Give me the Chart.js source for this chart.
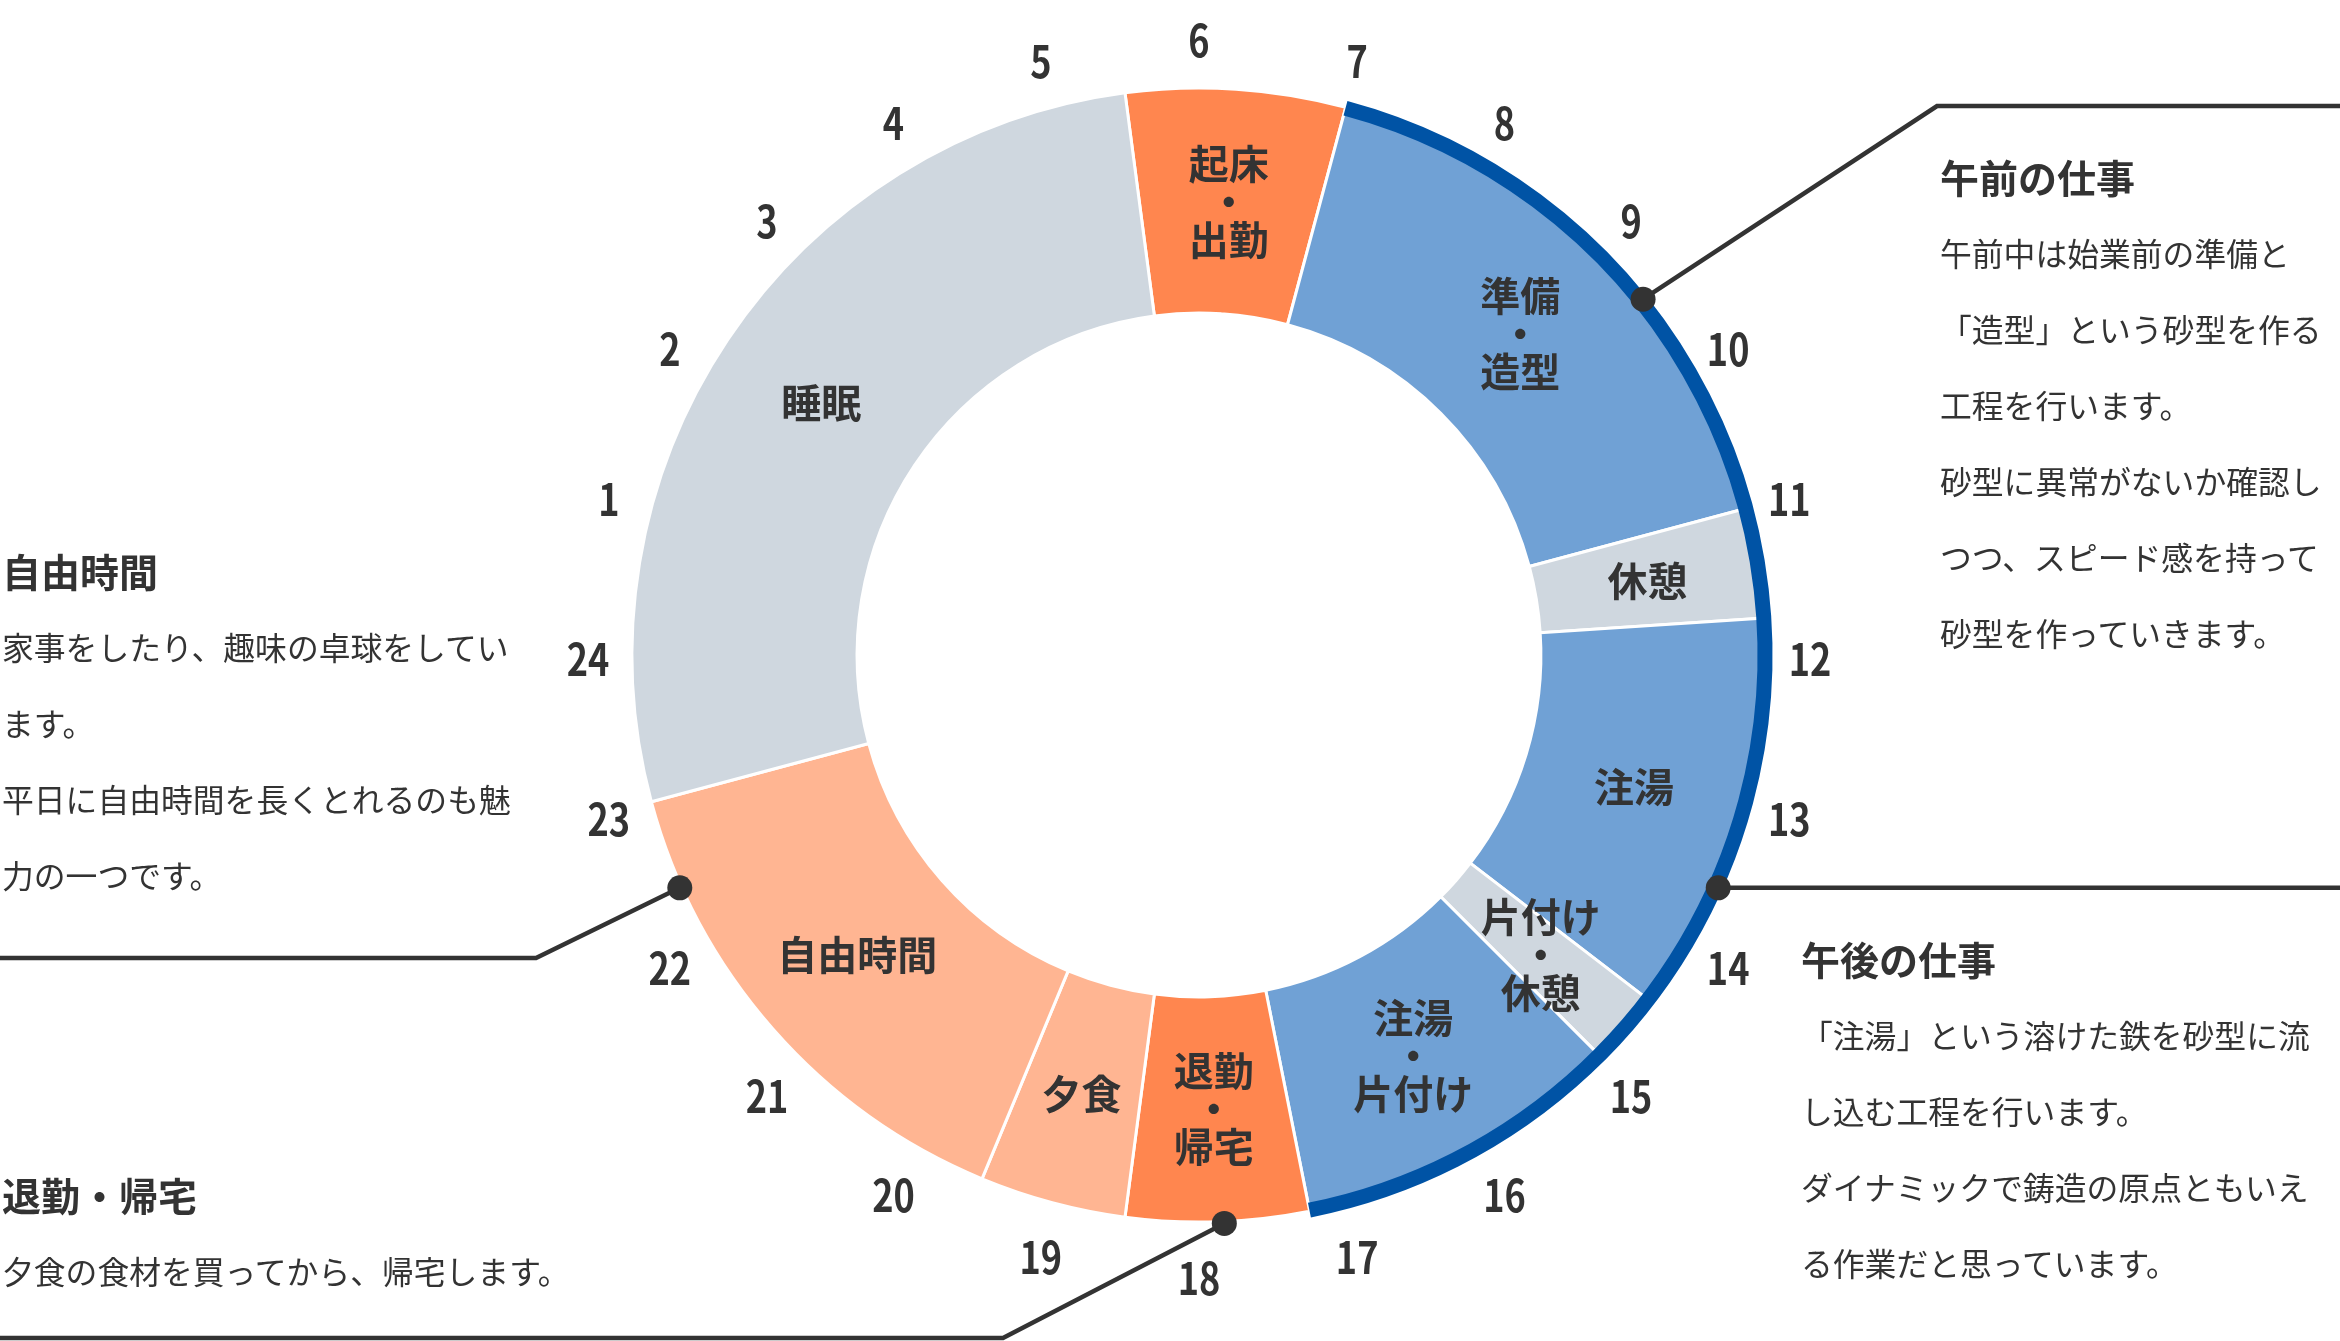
<!DOCTYPE html>
<html lang="ja"><head><meta charset="utf-8">
<script src="https://cdn.jsdelivr.net/npm/chart.js@4/dist/chart.umd.min.js"></script>
<style>
html,body{margin:0;padding:0;background:#fff;width:2340px;height:1341px;overflow:hidden;font-family:"Noto Sans CJK JP","Noto Sans",sans-serif;color:#333;}
#wrap{position:absolute;left:0;top:0;width:2340px;height:1341px;}
#c{position:absolute;left:0;top:0;width:2340px;height:1341px;}
.note{position:absolute;white-space:nowrap;}
.note h3{margin:0;font-size:39px;font-weight:700;line-height:76px;}
.note p{margin:0;font-size:31.8px;font-weight:400;line-height:76px;}
</style></head>
<body>
<div id="wrap">
<canvas id="c" width="2340" height="1341"></canvas>
<div class="note" style="left:1940px;top:138px"><h3>午前の仕事</h3><p>午前中は始業前の準備と<br>「造型」という砂型を作る<br>工程を行います。<br>砂型に異常がないか確認し<br>つつ、スピード感を持って<br>砂型を作っていきます。</p></div>
<div class="note" style="left:1801px;top:920px"><h3>午後の仕事</h3><p>「注湯」という溶けた鉄を砂型に流<br>し込む工程を行います。<br>ダイナミックで鋳造の原点ともいえ<br>る作業だと思っています。</p></div>
<div class="note" style="left:2px;top:532px"><h3>自由時間</h3><p>家事をしたり、趣味の卓球をしてい<br>ます。<br>平日に自由時間を長くとれるのも魅<br>力の一つです。</p></div>
<div class="note" style="left:2px;top:1156px"><h3>退勤・帰宅</h3><p>夕食の食材を買ってから、帰宅します。</p></div>
</div>
<script>
// ---- data ----
const categories = ['起床・出勤','準備・造型','休憩','注湯','片付け・休憩','注湯・片付け','退勤・帰宅','夕食','自由時間','睡眠'];
const durations  = [1.5, 4, 0.75, 2.75, 0.5, 2.25, 1.25, 1, 3.5, 6.5];   // hours
const workFlags  = [0, 1, 1, 1, 1, 1, 0, 0, 0, 0];
const startHour  = 5.5;   // first segment starts at 5:30
const topHour    = 6;     // hour shown at 12 o'clock position
const hourLabels = ['1','2','3','4','5','6','7','8','9','10','11','12','13','14','15','16','17','18','19','20','21','22','23','24'];
const calloutHours = [9.42, 13.61, 22.39, 17.83];

// ---- styles ----
const segmentColors = ['#ff864f','#70a1d5','#cfd7df','#70a1d5','#cfd7df','#70a1d5','#ff864f','#ffb592','#ffb592','#cfd7df'];
const bandColor = '#0053a5';
const ink = '#333333';

const clockPlugin = {
  id: 'clock',
  afterDatasetsDraw(chart) {
    const ctx = chart.ctx;
    const arcs = chart.getDatasetMeta(0).data;
    const a0 = arcs[0];
    const cx = a0.x, cy = a0.y, R = a0.outerRadius;
    const hourAngle = h => a0.startAngle + (h - startHour) / 24 * 2 * Math.PI;
    ctx.save();
    // work band
    const first = workFlags.indexOf(1), last = workFlags.lastIndexOf(1);
    ctx.beginPath();
    ctx.arc(cx, cy, R - 1, arcs[first].startAngle, arcs[last].endAngle);
    ctx.lineWidth = 15; ctx.strokeStyle = bandColor; ctx.lineCap = 'butt'; ctx.stroke();
    // segment labels
    ctx.fillStyle = ink; ctx.textAlign = 'center'; ctx.textBaseline = 'middle';
    ctx.font = '700 40px "Noto Sans CJK JP"';
    arcs.forEach((arc, i) => {
      const p = arc.getCenterPoint();
      const parts = categories[i].split('・');
      const lines = parts.length > 1 ? [parts[0], '・', parts[1]] : parts;
      const lh = 38;
      lines.forEach((t, j) => ctx.fillText(t, p.x, p.y + (j - (lines.length - 1) / 2) * lh));
    });
    // hour labels (condensed digits)
    ctx.font = '700 44px "Noto Sans CJK JP"';
    hourLabels.forEach((t, k) => {
      const ang = hourAngle(k + 1);
      ctx.save();
      ctx.translate(cx + Math.cos(ang) * 611, cy + Math.sin(ang) * 619 + 4);
      ctx.scale(0.82, 1);
      ctx.fillText(t, 0, 0);
      ctx.restore();
    });
    // callouts
    const pts = calloutHours.map(h => { const a = hourAngle(h); return [cx + Math.cos(a) * (R + 2), cy + Math.sin(a) * (R + 2)]; });
    const W = chart.width;
    const paths = [
      [pts[0], [1937, 106], [W, 106]],
      [pts[1], [W, pts[1][1]]],
      [pts[2], [536, 958], [0, 958]],
      [pts[3], [1003, 1338], [0, 1338]]
    ];
    ctx.strokeStyle = ink; ctx.lineWidth = 4.5; ctx.lineJoin = 'miter';
    paths.forEach(path => {
      ctx.beginPath();
      path.forEach((p, j) => j ? ctx.lineTo(p[0], p[1]) : ctx.moveTo(p[0], p[1]));
      ctx.stroke();
    });
    ctx.fillStyle = ink;
    pts.forEach(p => { ctx.beginPath(); ctx.arc(p[0], p[1], 12.5, 0, 2 * Math.PI); ctx.fill(); });
    ctx.restore();
  }
};

new Chart(document.getElementById('c'), {
  type: 'doughnut',
  data: {
    labels: categories,
    datasets: [{
      data: durations,
      backgroundColor: segmentColors,
      borderColor: '#ffffff',
      borderWidth: 3
    }]
  },
  options: {
    responsive: false,
    animation: false,
    rotation: (startHour - topHour) * 360 / 24,
    radius: 567,
    cutout: '60.3%',
    layout: { padding: { left: 633, right: 575, top: 89, bottom: 120 } },
    plugins: { legend: { display: false }, tooltip: { enabled: false } }
  },
  plugins: [clockPlugin]
});
</script>
</body></html>
